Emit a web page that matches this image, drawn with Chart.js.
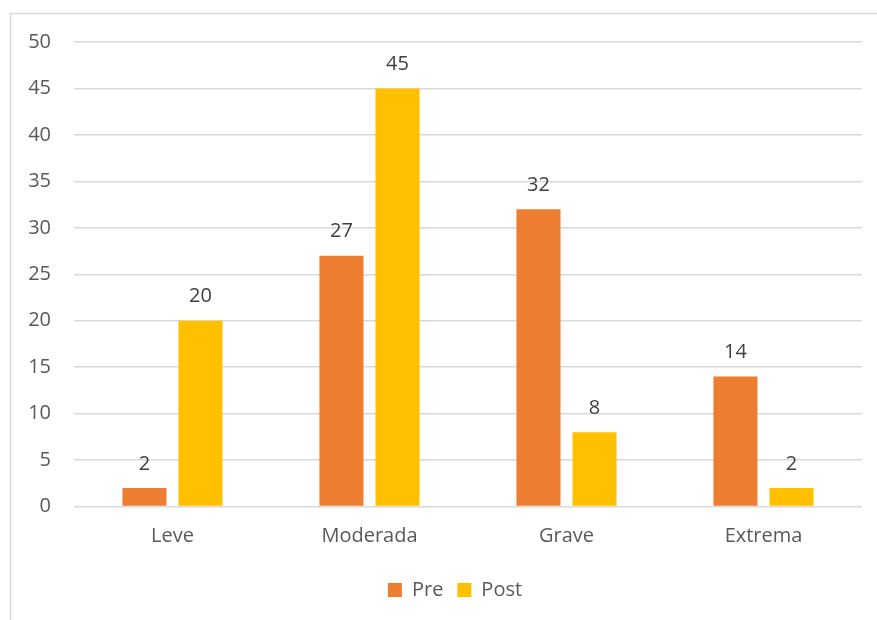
<!DOCTYPE html>
<html><head><meta charset="utf-8">
<script src="https://cdn.jsdelivr.net/npm/chart.js@4"></script>
<style>html,body{margin:0;padding:0;background:#fff}#wrap{width:877px;height:620px;position:relative}</style>
</head><body><div id="wrap"><canvas id="c" width="877" height="620"></canvas></div>
<script>
const categories = ['Leve', 'Moderada', 'Grave', 'Extrema'];
const preValues = [2, 27, 32, 14];
const postValues = [20, 45, 8, 2];
const seriesNames = ['Pre', 'Post'];
const yMin = 0, yMax = 50, yStep = 5;

const FONT = '"Open Sans", Calibri, Carlito, sans-serif';

const borderPlugin = {
  id: 'frame',
  beforeDraw(chart) {
    const ctx = chart.ctx;
    ctx.save();
    ctx.fillStyle = '#fff';
    ctx.fillRect(0, 0, chart.width, chart.height);
    ctx.strokeStyle = '#d9d9d9';
    ctx.lineWidth = 1.5;
    ctx.strokeRect(10.5, 13.5, 1000, 1000);
    ctx.restore();
  }
};

const legendShift = {
  id: 'legendShift',
  afterLayout(chart) {
    if (chart.legend) { chart.legend.left += 24; chart.legend.right += 24; }
  }
};

const labelPlugin = {
  id: 'dataLabels',
  afterDatasetsDraw(chart) {
    const ctx = chart.ctx;
    ctx.save();
    ctx.font = '20px ' + FONT;
    ctx.fillStyle = '#404040';
    ctx.textAlign = 'center';
    ctx.textBaseline = 'middle';
    chart.data.datasets.forEach((ds, di) => {
      const meta = chart.getDatasetMeta(di);
      meta.data.forEach((el, i) => {
        ctx.fillText(String(ds.data[i]), el.x, el.y - 24);
      });
    });
    ctx.restore();
  }
};

new Chart(document.getElementById('c'), {
  type: 'bar',
  data: {
    labels: categories,
    datasets: [
      { label: seriesNames[0], data: preValues, backgroundColor: '#ED7D31' },
      { label: seriesNames[1], data: postValues, backgroundColor: '#FFC000' }
    ]
  },
  options: {
    responsive: false,
    animation: false,
    devicePixelRatio: 1,
    layout: { padding: { top: 42, right: 15, left: 0, bottom: 10 } },
    datasets: { bar: { categoryPercentage: 0.569, barPercentage: 0.786 } },
    scales: {
      x: {
        grid: { display: false, drawTicks: false },
        border: { display: false },
        ticks: { color: '#595959', font: { family: FONT, size: 20 }, padding: 18 },
        afterFit(s) { s.height = 59.5; }
      },
      y: {
        min: yMin, max: yMax,
        ticks: { stepSize: yStep, color: '#595959', font: { family: FONT, size: 20 }, padding: 23 },
        grid: { color: '#d9d9d9', lineWidth: 1.5, drawTicks: false },
        border: { display: false },
        afterFit(s) { s.width = 74; }
      }
    },
    plugins: {
      legend: {
        position: 'bottom',
        labels: { color: '#595959', font: { family: FONT, size: 20 }, boxWidth: 14, boxHeight: 14, padding: 14 }
      },
      tooltip: { enabled: false }
    }
  },
  plugins: [borderPlugin, legendShift, labelPlugin]
});
</script></body></html>
